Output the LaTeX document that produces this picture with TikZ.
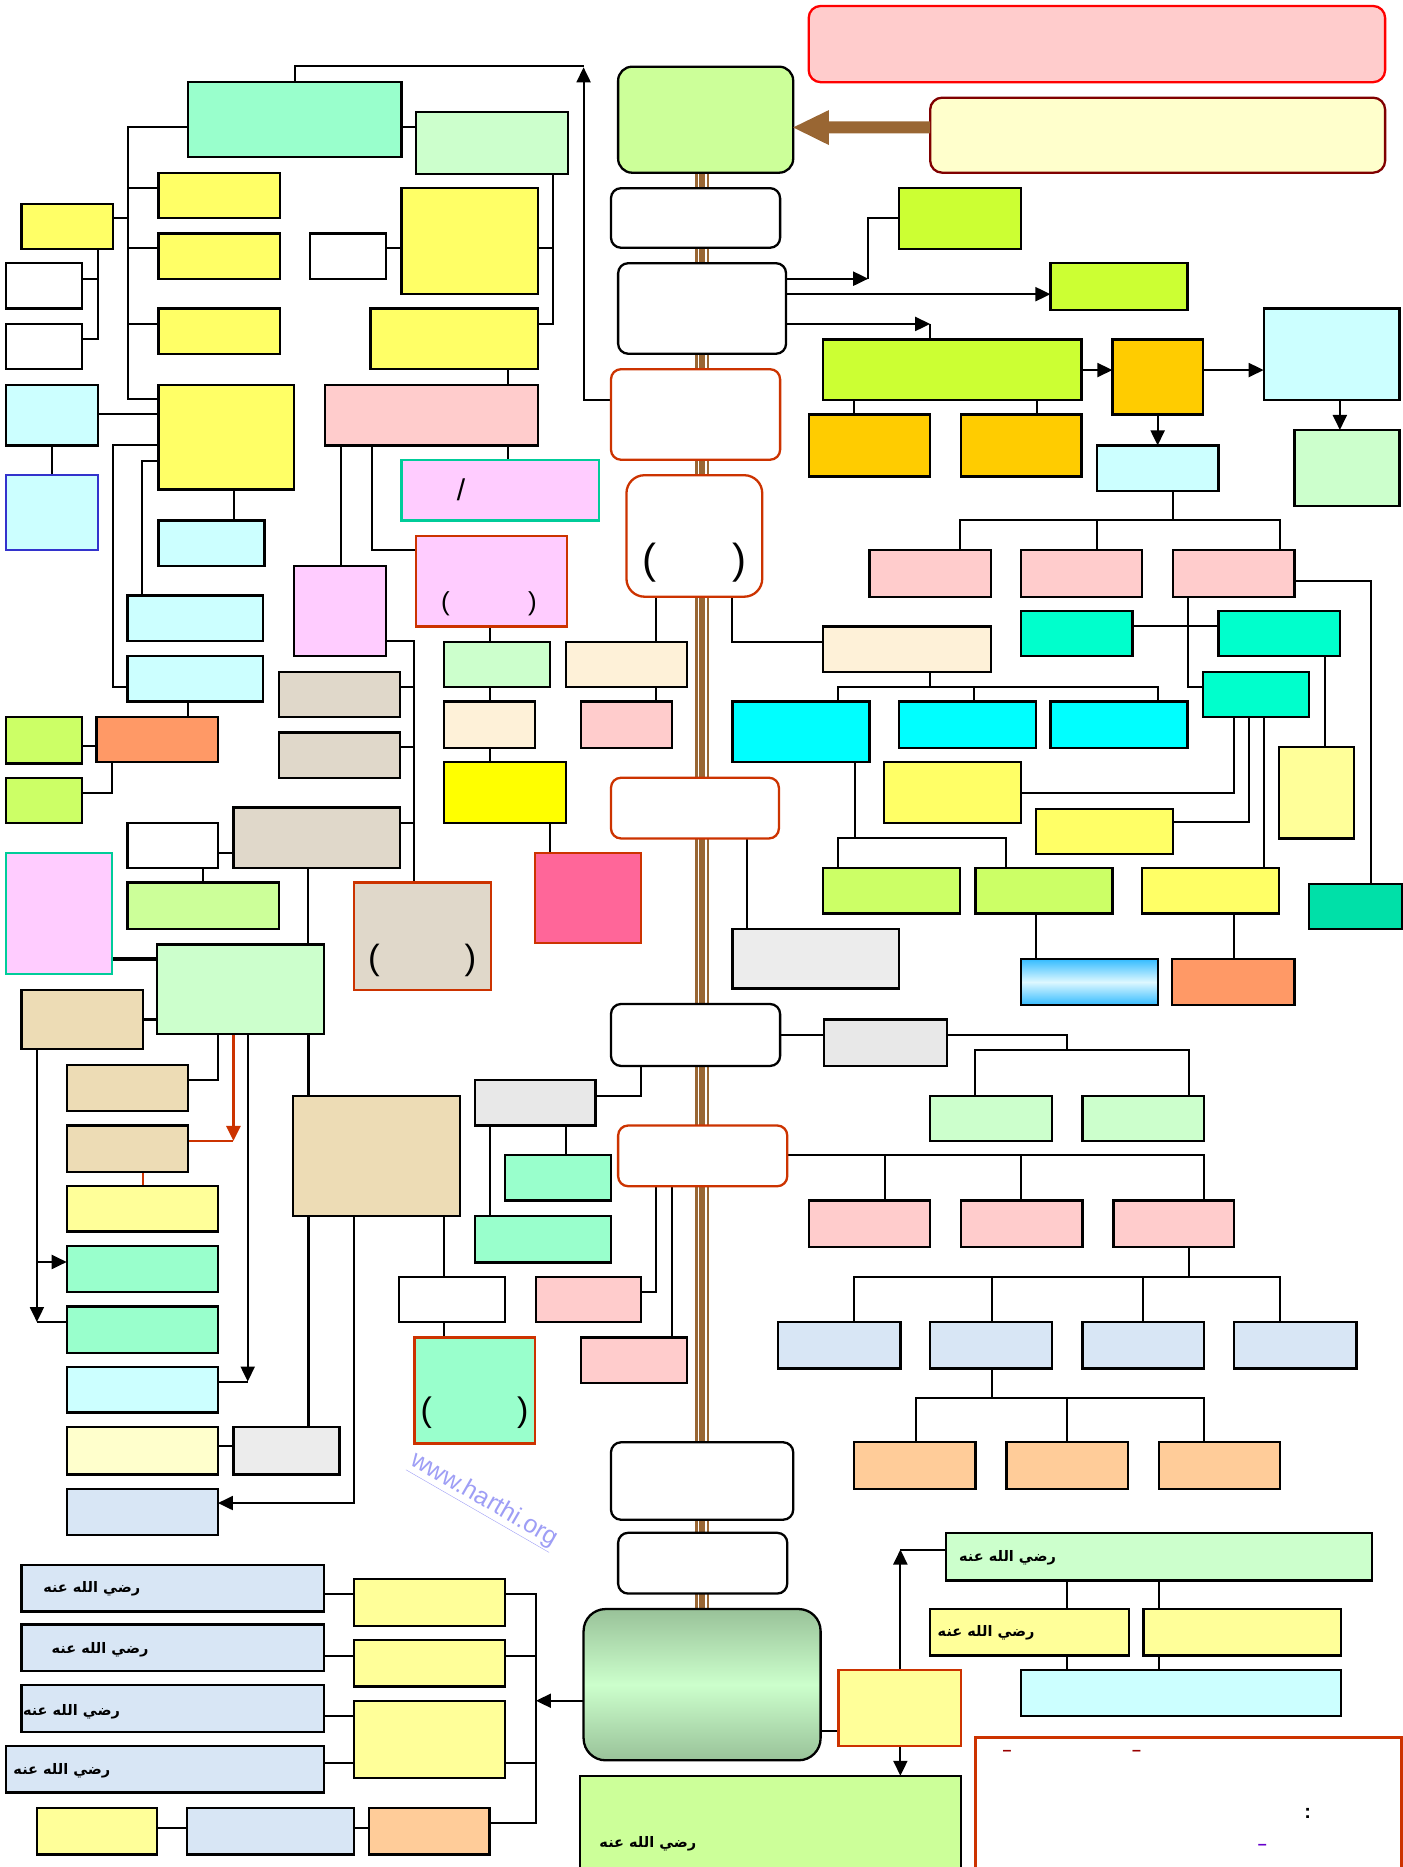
\documentclass[tikz,border=0pt]{standalone}
\usepackage{fontspec}
\setmainfont{Liberation Sans}
\newfontfamily\arabicfont[Script=Arabic]{DejaVu Sans}
\TeXXeTstate=1
\usetikzlibrary{arrows.meta,backgrounds}
\definecolor{cMint}{HTML}{99FFCC}
\definecolor{cLG}{HTML}{CCFFCC}
\definecolor{cY}{HTML}{FFFF66}
\definecolor{cYP}{HTML}{FFFF99}
\definecolor{cYL}{HTML}{FFFFCC}
\definecolor{cCL}{HTML}{CCFFFF}
\definecolor{cPk}{HTML}{FFCCCC}
\definecolor{cLav}{HTML}{FFCCFF}
\definecolor{cGY}{HTML}{CCFF66}
\definecolor{cGB}{HTML}{CCFF33}
\definecolor{cGL}{HTML}{CCFF99}
\definecolor{cOr}{HTML}{FFCC00}
\definecolor{cSal}{HTML}{FF9966}
\definecolor{cPeach}{HTML}{FFCC99}
\definecolor{cTeal}{HTML}{00FFCC}
\definecolor{cTealD}{HTML}{00E0A8}
\definecolor{cCy}{HTML}{00FFFF}
\definecolor{cHot}{HTML}{FF6699}
\definecolor{cYel}{HTML}{FFFF00}
\definecolor{cGr}{HTML}{E8E8E8}
\definecolor{cTexG}{HTML}{E0D8CA}
\definecolor{cTan}{HTML}{EDDCB5}
\definecolor{cCream}{HTML}{FEF1D8}
\definecolor{cTexW}{HTML}{ECECEC}
\definecolor{cBlueT}{HTML}{D8E6F5}
\definecolor{cRed}{HTML}{CC3300}
\definecolor{cBrown}{HTML}{996633}
\definecolor{cDkRed}{HTML}{800000}
\definecolor{cDash}{HTML}{990000}
\definecolor{cPurp}{HTML}{6600CC}
\definecolor{cGradA}{HTML}{99C299}
\definecolor{cGradB}{HTML}{CCFFCC}
\definecolor{cBlueGA}{HTML}{33BBFF}
\definecolor{cBlueGB}{HTML}{DDF8FF}
\definecolor{cWM}{HTML}{9E9EF5}
\definecolor{cTealB}{HTML}{00CC99}
\definecolor{cBlueB}{HTML}{3333CC}
\tikzset{
  box/.style={draw=black,line width=2.3pt,inner sep=0pt,outer sep=0pt,fill=white},
  rbox/.style={box,rounded corners=10pt},
  redb/.style={draw=cRed},
  ln/.style={line width=2pt,black},
  thk/.style={line width=3.8pt,black},
  arr/.style={ln,-{Triangle[length=15pt,width=14pt]}},
  redln/.style={line width=2.6pt,cRed},
  redarr/.style={redln,-{Triangle[length=15pt,width=14pt]}},
  ar/.style={font=\arabicfont\bfseries\fontsize{14.5}{16}\selectfont,inner sep=0pt},
  par/.style={inner sep=0pt}
}
\newcommand\mybox[6][]{\node[box,#1,minimum width={(#5-#3)*1.191pt},minimum height={(#6-#4)*1.191pt}] (#2) at ({(#3+#5)/2},{(#4+#6)/2}) {};}
\begin{document}
\begin{tikzpicture}[x=1.191pt,y=-1.191pt]
\useasboundingbox (0,0) rectangle (1178,1567.6);
% top
\mybox[fill=cPk,draw=red,rounded corners=12pt]{t1}{679}{5}{1163}{69}
\mybox[fill=cYL,draw=cDkRed,rounded corners=12pt]{t2}{781}{82}{1163}{145}
\mybox[fill=cGL,rounded corners=14pt]{g0}{519}{56}{666}{145}
% trunk boxes
\mybox[rbox]{c1}{513}{158}{655}{208}
\mybox[rbox]{c2}{519}{221}{660}{297}
\mybox[rbox,redb]{c3}{513}{310}{655}{386}
\mybox[rbox,redb,rounded corners=18pt]{c4}{526}{399}{640}{501}
\mybox[rbox,redb]{c5}{513}{653}{654}{704}
\mybox[rbox]{c6}{513}{843}{655}{895}
\mybox[rbox,redb]{c7}{519}{945}{661}{996}
\mybox[rbox]{c8}{513}{1211}{666}{1276}
\mybox[rbox]{c9}{519}{1287}{661}{1338}
\mybox[rbox,rounded corners=22pt,top color=cGradA,bottom color=cGradA,middle color=cGradB]{c10}{490}{1351}{689}{1478}
% left top
\mybox[fill=cMint]{a1}{158}{69}{337}{132}
\mybox[fill=cLG]{a2}{349}{94}{477}{146}
\mybox[fill=cY]{a3}{337}{158}{452}{247}
\mybox{a4}{260}{196}{324}{234}
\mybox[fill=cY]{a5}{311}{259}{452}{310}
\mybox[fill=cY]{a6}{133}{145}{235}{183}
\mybox[fill=cY]{a7}{133}{196}{235}{234}
\mybox[fill=cY]{a8}{133}{259}{235}{297}
\mybox[fill=cY]{a9}{18}{171}{95}{209}
\mybox{a10}{5}{221}{69}{259}
\mybox{a11}{5}{272}{69}{310}
\mybox[fill=cCL]{a12}{5}{323}{82}{374}
\mybox[fill=cCL,draw=cBlueB]{a13}{5}{399}{82}{462}
\mybox[fill=cY]{a14}{133}{323}{247}{411}
\mybox[fill=cCL]{a15}{133}{437}{222}{475}
\mybox[fill=cCL]{a16}{107}{500}{221}{538}
\mybox[fill=cCL]{a17}{107}{551}{221}{589}
\mybox[fill=cSal]{a18}{81}{602}{183}{640}
\mybox[fill=cGY]{a19}{5}{602}{69}{641}
\mybox[fill=cGY]{a20}{5}{653}{69}{691}
\mybox[fill=cPk]{a21}{273}{323}{452}{374}
\mybox[fill=cLav,draw=cTealB]{a22}{337}{386}{503}{437}
\mybox[fill=cLav,draw=cRed]{a23}{349}{450}{476}{526}
\mybox[fill=cLav]{a24}{247}{475}{324}{551}
\mybox[fill=cTexG]{a25}{234}{564}{336}{602}
\mybox[fill=cTexG]{a26}{234}{615}{336}{653}
\mybox[fill=cTexG]{a27}{196}{678}{336}{729}
\mybox{a28}{107}{691}{183}{729}
\mybox[fill=cGL]{a29}{107}{741}{234}{780}
\mybox[fill=cLav,draw=cTealB]{a30}{5}{716}{94}{818}
\mybox[fill=cTexG,draw=cRed]{a31}{297}{741}{412}{831}
\mybox[fill=cLG]{a32}{132}{793}{272}{868}
\mybox[fill=cTan]{a33}{18}{831}{120}{881}
\mybox[fill=cLG]{b1}{373}{539}{462}{577}
\mybox[fill=cCream]{b2}{373}{589}{449}{628}
\mybox[fill=cYel]{b3}{373}{640}{475}{691}
\mybox[fill=cHot,draw=cRed]{b4}{449}{716}{538}{792}
\mybox[fill=cCream]{b5}{475}{539}{577}{577}
\mybox[fill=cPk]{b6}{488}{589}{564}{628}
% right top
\mybox[fill=cGB]{r1}{755}{158}{857}{209}
\mybox[fill=cGB]{r2}{882}{221}{997}{260}
\mybox[fill=cGB]{r3}{691}{285}{908}{336}
\mybox[fill=cOr]{r4}{934}{285}{1010}{348}
\mybox[fill=cCL]{r5}{1061}{259}{1175}{336}
\mybox[fill=cLG]{r6}{1087}{361}{1175}{425}
\mybox[fill=cOr]{r7}{679}{348}{781}{400}
\mybox[fill=cOr]{r8}{807}{348}{908}{400}
\mybox[fill=cCL]{r9}{921}{374}{1023}{412}
\mybox[fill=cPk]{r10}{730}{462}{832}{501}
\mybox[fill=cPk]{r11}{857}{462}{959}{501}
\mybox[fill=cPk]{r12}{985}{462}{1087}{501}
\mybox[fill=cTeal]{r13}{857}{513}{951}{551}
\mybox[fill=cTeal]{r14}{1023}{513}{1125}{551}
\mybox[fill=cTeal]{r15}{1010}{564}{1099}{602}
\mybox[fill=cCream]{r16}{691}{526}{832}{564}
\mybox[fill=cCy]{r17}{615}{589}{730}{640}
\mybox[fill=cCy]{r18}{755}{589}{870}{628}
\mybox[fill=cCy]{r19}{882}{589}{997}{628}
\mybox[fill=cY]{r20}{742}{640}{857}{691}
\mybox[fill=cY]{r21}{870}{679}{985}{717}
\mybox[fill=cYP]{r22}{1074}{627}{1137}{704}
\mybox[fill=cGY]{r23}{691}{729}{806}{767}
\mybox[fill=cGY]{r24}{819}{729}{934}{767}
\mybox[fill=cY]{r25}{959}{729}{1074}{767}
\mybox[fill=cTealD]{r26}{1099}{742}{1177}{780}
\mybox[top color=cBlueGA,bottom color=cBlueGA,middle color=cBlueGB]{r27}{857}{805}{972}{844}
\mybox[fill=cSal]{r28}{984}{805}{1087}{844}
\mybox[fill=cTexW]{r29}{615}{780}{755}{830}
% middle
\mybox[fill=cGr]{m1}{692}{856}{795}{895}
\mybox[fill=cLG]{m2}{781}{920}{883}{958}
\mybox[fill=cLG]{m3}{909}{920}{1011}{958}
\mybox[fill=cGr]{m4}{399}{907}{500}{945}
\mybox[fill=cMint]{m5}{424}{970}{513}{1008}
\mybox[fill=cMint]{m6}{399}{1021}{513}{1060}
\mybox[fill=cPk]{m7}{679}{1008}{781}{1047}
\mybox[fill=cPk]{m8}{807}{1008}{909}{1047}
\mybox[fill=cPk]{m9}{935}{1008}{1036}{1047}
\mybox[fill=cBlueT]{m10}{653}{1110}{756}{1149}
\mybox[fill=cBlueT]{m11}{781}{1110}{883}{1149}
\mybox[fill=cBlueT]{m12}{909}{1110}{1011}{1149}
\mybox[fill=cBlueT]{m13}{1036}{1110}{1139}{1149}
\mybox[fill=cPeach]{m14}{717}{1211}{819}{1250}
\mybox[fill=cPeach]{m15}{845}{1211}{947}{1250}
\mybox[fill=cPeach]{m16}{973}{1211}{1075}{1250}
\mybox[fill=cPk]{m17}{450}{1072}{538}{1110}
\mybox[fill=cPk]{m18}{488}{1123}{577}{1161}
% left lower
\mybox[fill=cTan]{l1}{56}{894}{158}{933}
\mybox[fill=cTan]{l2}{56}{945}{158}{984}
\mybox[fill=cYP]{l3}{56}{996}{183}{1034}
\mybox[fill=cMint]{l4}{56}{1046}{183}{1085}
\mybox[fill=cMint]{l5}{56}{1097}{183}{1136}
\mybox[fill=cCL]{l6}{56}{1148}{183}{1186}
\mybox[fill=cYL]{l7}{56}{1198}{183}{1238}
\mybox[fill=cTexW]{l8}{196}{1198}{285}{1238}
\mybox[fill=cBlueT]{l9}{56}{1250}{183}{1289}
\mybox[fill=cTan]{l10}{246}{920}{386}{1021}
\mybox{l11}{335}{1072}{424}{1110}
\mybox[fill=cMint,draw=cRed]{l12}{348}{1123}{449}{1212}
% bottom
\mybox[fill=cBlueT]{d1}{18}{1314}{272}{1353}
\mybox[fill=cBlueT]{d2}{18}{1364}{272}{1403}
\mybox[fill=cBlueT]{d3}{18}{1415}{272}{1454}
\mybox[fill=cBlueT]{d4}{5}{1466}{272}{1505}
\mybox[fill=cYP]{d5}{297}{1326}{424}{1365}
\mybox[fill=cYP]{d6}{297}{1377}{424}{1416}
\mybox[fill=cYP]{d7}{297}{1428}{424}{1493}
\mybox[fill=cYP]{d8}{31}{1518}{132}{1557}
\mybox[fill=cBlueT]{d9}{157}{1518}{297}{1557}
\mybox[fill=cPeach]{d10}{310}{1518}{411}{1557}
\mybox[fill=cYP,draw=cRed]{e1}{704}{1402}{807}{1466}
\mybox[fill=cLG]{e2}{794}{1287}{1152}{1327}
\mybox[fill=cYP]{e3}{781}{1351}{948}{1390}
\mybox[fill=cYP]{e4}{960}{1351}{1126}{1390}
\mybox[fill=cCL]{e5}{857}{1402}{1126}{1441}
\mybox[fill=cGL]{e6}{487}{1491}{807}{1570}
\mybox[draw=cRed,line width=3pt]{e7}{819}{1459}{1177}{1600}
% big brown arrow
\fill[cBrown] (t2.west|-0,102) -- (696,102) -- (696,92.4) -- (g0.east|-0,107) -- (696,121.8) -- (696,112) -- (t2.west|-0,112) -- cycle;
\begin{pgfonlayer}{background}
% trunk
\draw[line width=14pt,cBrown] (g0.south-|589.6,0) -- (c10.north-|589.6,0);
\draw[line width=1.8pt,white] (g0.south-|586.5,0) -- (c10.north-|586.5,0);
\draw[line width=1.8pt,white] (g0.south-|592.8,0) -- (c10.north-|592.8,0);
% top left
\draw[ln] (a1.north) |- (490,55.5);
\draw[arr] (c3.west|-0,336) -| (490,56.5);
\draw[ln] (a1.east|-0,107) -- (a2.west|-0,107);
\draw[ln] (a1.west|-0,107) -| (107.5,335) -- (a14.west|-0,335);
\draw[ln] (a6.west|-0,158) -- (107.5,158);
\draw[ln] (a7.west|-0,208) -- (107.5,208);
\draw[ln] (a8.west|-0,272) -- (107.5,272);
\draw[ln] (a9.east|-0,183) -- (107.5,183);
\draw[ln] (a9.south-|82,0) |- (a11.east|-0,285);
\draw[ln] (a10.east|-0,234) -- (82,234);
\draw[ln] (a2.south-|464.5,0) |- (a5.east|-0,272);
\draw[ln] (a3.east|-0,208) -- (464.5,208);
\draw[ln] (a4.east|-0,208) -- (a3.west|-0,208);
\draw[ln] (a12.east|-0,348) -- (a14.west|-0,348);
\draw[ln] (a12.south) -- (a13.north);
\draw[ln] (a14.west|-0,374) -| (94.5,577) -- (a17.west|-0,577);
\draw[ln] (a14.west|-0,387) -| (a16.north-|119.5,0);
\draw[ln] (a14.south-|196.5,0) -- (a15.north-|196.5,0);
\draw[ln] (a17.south-|158,0) -- (a18.north-|158,0);
\draw[ln] (a19.east|-0,626) -- (a18.west|-0,626);
\draw[ln] (a18.south-|94,0) |- (a20.east|-0,666);
\draw[ln] (a5.south-|426.5,0) -- (a21.north-|426.5,0);
\draw[ln] (a21.south-|426.5,0) -- (a22.north-|426.5,0);
\draw[ln] (a21.south-|286,0) -- (a24.north-|286,0);
\draw[ln] (a21.south-|312,0) |- (a23.west|-0,462);
\draw[ln] (a24.east|-0,538) -| (a31.north-|348,0);
\draw[ln] (a25.east|-0,577) -- (348,577);
\draw[ln] (a26.east|-0,627) -- (348,627);
\draw[ln] (a27.east|-0,691) -- (348,691);
\draw[ln] (a28.east|-0,716) -- (a27.west|-0,716);
\draw[ln] (a28.south-|170.5,0) -- (a29.north-|170.5,0);
\draw[ln] (a27.south-|259,0) -- (a32.north-|259,0);
\draw[thk] (a30.east|-0,805) -- (a32.west|-0,805);
\draw[thk] (a33.east|-0,856) -- (a32.west|-0,856);
\draw[ln] (a23.south-|411.6,0) -- (b1.north-|411.6,0);
\draw[ln] (b1.south-|411.6,0) -- (b2.north-|411.6,0);
\draw[ln] (b2.south-|411.6,0) -- (b3.north-|411.6,0);
\draw[ln] (b3.south-|462,0) -- (b4.north-|462,0);
\draw[ln] (c4.south-|551,0) -- (b5.north-|551,0);
\draw[ln] (b5.south-|551,0) -- (b6.north-|551,0);
\draw[ln] (c4.south-|615,0) |- (r16.west|-0,539);
% right top
\draw[arr] (c2.east|-0,234) -- (729,234);
\draw[ln] (729,234) |- (r1.west|-0,183);
\draw[arr] (c2.east|-0,247) -- (r2.west|-0,247);
\draw[arr] (c2.east|-0,272) -- (781,272);
\draw[ln] (781,272) -- (r3.north-|781,0);
\draw[arr] (r3.east|-0,310.7) -- (r4.west|-0,310.7);
\draw[arr] (r4.east|-0,310.7) -- (r5.west|-0,310.7);
\draw[arr] (r5.south-|1125,0) -- (r6.north-|1125,0);
\draw[arr] (r4.south-|972,0) -- (r9.north-|972,0);
\draw[ln] (r3.south-|717,0) -- (r7.north-|717,0);
\draw[ln] (r3.south-|870.6,0) -- (r8.north-|870.6,0);
\draw[ln] (r9.south-|985,0) -- (985,437);
\draw[ln] (r10.north-|806,0) |- (1075,437) -- (r12.north-|1075,0);
\draw[ln] (r11.north-|921,0) -- (921,437);
\draw[ln] (r12.east|-0,488) -| (r26.north-|1151,0);
\draw[ln] (r12.south-|997.6,0) |- (r15.west|-0,576.5);
\draw[ln] (r13.east|-0,525.6) -- (r14.west|-0,525.6);
\draw[ln] (r14.south-|1112.6,0) -- (r22.north-|1112.6,0);
\draw[ln] (r15.south-|1036,0) |- (r20.east|-0,666);
\draw[ln] (r15.south-|1049,0) |- (r21.east|-0,690);
\draw[ln] (r15.south-|1061,0) -- (r25.north-|1061,0);
\draw[ln] (r16.south-|781,0) -- (781,577);
\draw[ln] (r17.north-|704,0) |- (972,577) -- (r19.north-|972,0);
\draw[ln] (r18.north-|818,0) -- (818,577);
\draw[ln] (r17.south-|717.6,0) -- (717.6,703.6);
\draw[ln] (r23.north-|704,0) |- (845,703.6) -- (r24.north-|845,0);
\draw[ln] (r24.south-|869.6,0) -- (r27.north-|869.6,0);
\draw[ln] (r25.south-|1036,0) -- (r28.north-|1036,0);
\draw[ln] (c5.south-|627,0) -- (r29.north-|627,0);
% middle
\draw[ln] (c6.east|-0,869) -- (m1.west|-0,869);
\draw[ln] (m1.east|-0,869) -| (896,881.6);
\draw[ln] (m2.north-|819,0) |- (998.7,881.6) -- (m3.north-|998.7,0);
\draw[ln] (m4.east|-0,920) -| (c6.south-|538,0);
\draw[ln] (m4.south-|411.7,0) -- (m6.north-|411.7,0);
\draw[ln] (m4.south-|475,0) -- (m5.north-|475,0);
\draw[ln] (c7.east|-0,970) -| (m9.north-|1011,0);
\draw[ln] (m7.north-|743,0) -- (743,970);
\draw[ln] (m8.north-|857,0) -- (857,970);
\draw[ln] (m9.south-|998.7,0) -- (998.7,1072);
\draw[ln] (m10.north-|717,0) |- (1075,1072) -- (m13.north-|1075,0);
\draw[ln] (m11.north-|832.6,0) -- (832.6,1072);
\draw[ln] (m12.north-|960,0) -- (960,1072);
\draw[ln] (m11.south-|832.6,0) -- (832.6,1173.5);
\draw[ln] (m14.north-|768.8,0) |- (1011,1173.5) -- (m16.north-|1011,0);
\draw[ln] (m15.north-|896,0) -- (896,1173.5);
\draw[ln] (c7.south-|551,0) |- (m17.east|-0,1084.6);
\draw[ln] (c7.south-|564,0) -- (m18.north-|564,0);
% left lower
\draw[ln] (a32.south-|183,0) |- (l1.east|-0,907);
\draw[redarr] (a32.south-|196,0) -- (196,958);
\draw[redln] (l2.east|-0,958) -- (196,958);
\draw[redln] (l2.south-|120,0) -- (l3.north-|120,0);
\draw[arr] (a32.south-|208,0) -- (208,1160);
\draw[ln] (l6.east|-0,1160) -- (208,1160);
\draw[line width=3pt] (a32.south-|259,0) -- (l8.north-|259,0);
\draw[arr] (l10.south-|297,0) |- (l9.east|-0,1262);
\draw[arr] (a33.south-|31,0) -- (31,1110);
\draw[arr] (31,1059.6) -- (l4.west|-0,1059.6);
\draw[ln] (31,1110) -- (l5.west|-0,1110);
\draw[ln] (l7.east|-0,1214) -- (l8.west|-0,1214);
\draw[ln] (l10.south-|373,0) -- (l11.north-|373,0);
\draw[ln] (l11.south-|373,0) -- (l12.north-|373,0);
% bottom
\draw[ln] (d1.east|-0,1338) -- (d5.west|-0,1338);
\draw[ln] (d2.east|-0,1390) -- (d6.west|-0,1390);
\draw[ln] (d3.east|-0,1441) -- (d7.west|-0,1441);
\draw[ln] (d4.east|-0,1480) -- (d7.west|-0,1480);
\draw[ln] (d5.east|-0,1338) -| (450,1531) -- (d10.east|-0,1531);
\draw[ln] (d6.east|-0,1390) -- (450,1390);
\draw[ln] (d7.east|-0,1480) -- (450,1480);
\draw[arr] (c10.west|-0,1428) -- (450,1428);
\draw[ln] (d8.east|-0,1535) -- (d9.west|-0,1535);
\draw[ln] (d9.east|-0,1535) -- (d10.west|-0,1535);
\draw[ln] (c10.east|-0,1453) -- (e1.west|-0,1453);
\draw[arr] (e1.north-|756,0) -- (756,1301);
\draw[ln] (756,1301) -- (e2.west|-0,1301);
\draw[arr] (e1.south-|756,0) -- (e6.north-|756,0);
\draw[ln] (e2.south-|896,0) -- (e3.north-|896,0);
\draw[ln] (e2.south-|973,0) -- (e4.north-|973,0);
\draw[ln] (e3.south-|896,0) -- (e5.north-|896,0);
\draw[ln] (e4.south-|973,0) -- (e5.north-|973,0);
\end{pgfonlayer}
% texts
\node[par,font=\fontsize{42}{42}\selectfont] at (545,472) {(};
\node[par,font=\fontsize{42}{42}\selectfont] at (621,472) {)};
\node[par,font=\fontsize{26}{26}\selectfont] at (374,507) {(};
\node[par,font=\fontsize{26}{26}\selectfont] at (447,507) {)};
\node[par,font=\fontsize{35}{35}\selectfont] at (314,806) {(};
\node[par,font=\fontsize{35}{35}\selectfont] at (395,806) {)};
\node[par,font=\fontsize{34}{34}\selectfont] at (358,1186) {(};
\node[par,font=\fontsize{34}{34}\selectfont] at (439,1186) {)};
\node[par,font=\fontsize{30}{30}\selectfont] at (387,411) {/};
\node[ar] at (77,1334) {\beginR رضي الله عنه\endR};
\node[ar] at (84,1385) {\beginR رضي الله عنه\endR};
\node[ar] at (60,1437) {\beginR رضي الله عنه\endR};
\node[ar] at (52,1487) {\beginR رضي الله عنه\endR};
\node[ar] at (846,1308) {\beginR رضي الله عنه\endR};
\node[ar] at (828,1371) {\beginR رضي الله عنه\endR};
\node[ar] at (544,1548) {\beginR رضي الله عنه\endR};
\node[par,text=cDash,font=\bfseries\fontsize{16}{16}\selectfont] at (845.5,1471.6) {–};
\node[par,text=cDash,font=\bfseries\fontsize{16}{16}\selectfont] at (954.3,1471.6) {–};
\node[par,text=cPurp,font=\bfseries\fontsize{16}{16}\selectfont] at (1059.8,1551) {–};
\node[par,font=\bfseries\fontsize{20}{20}\selectfont] at (1098,1523) {:};
\node[par,rotate=-30,text=cWM,font=\fontsize{25}{25}\selectfont] at (406,1260) {\underline{www.harthi.org}};
\end{tikzpicture}
\end{document}
